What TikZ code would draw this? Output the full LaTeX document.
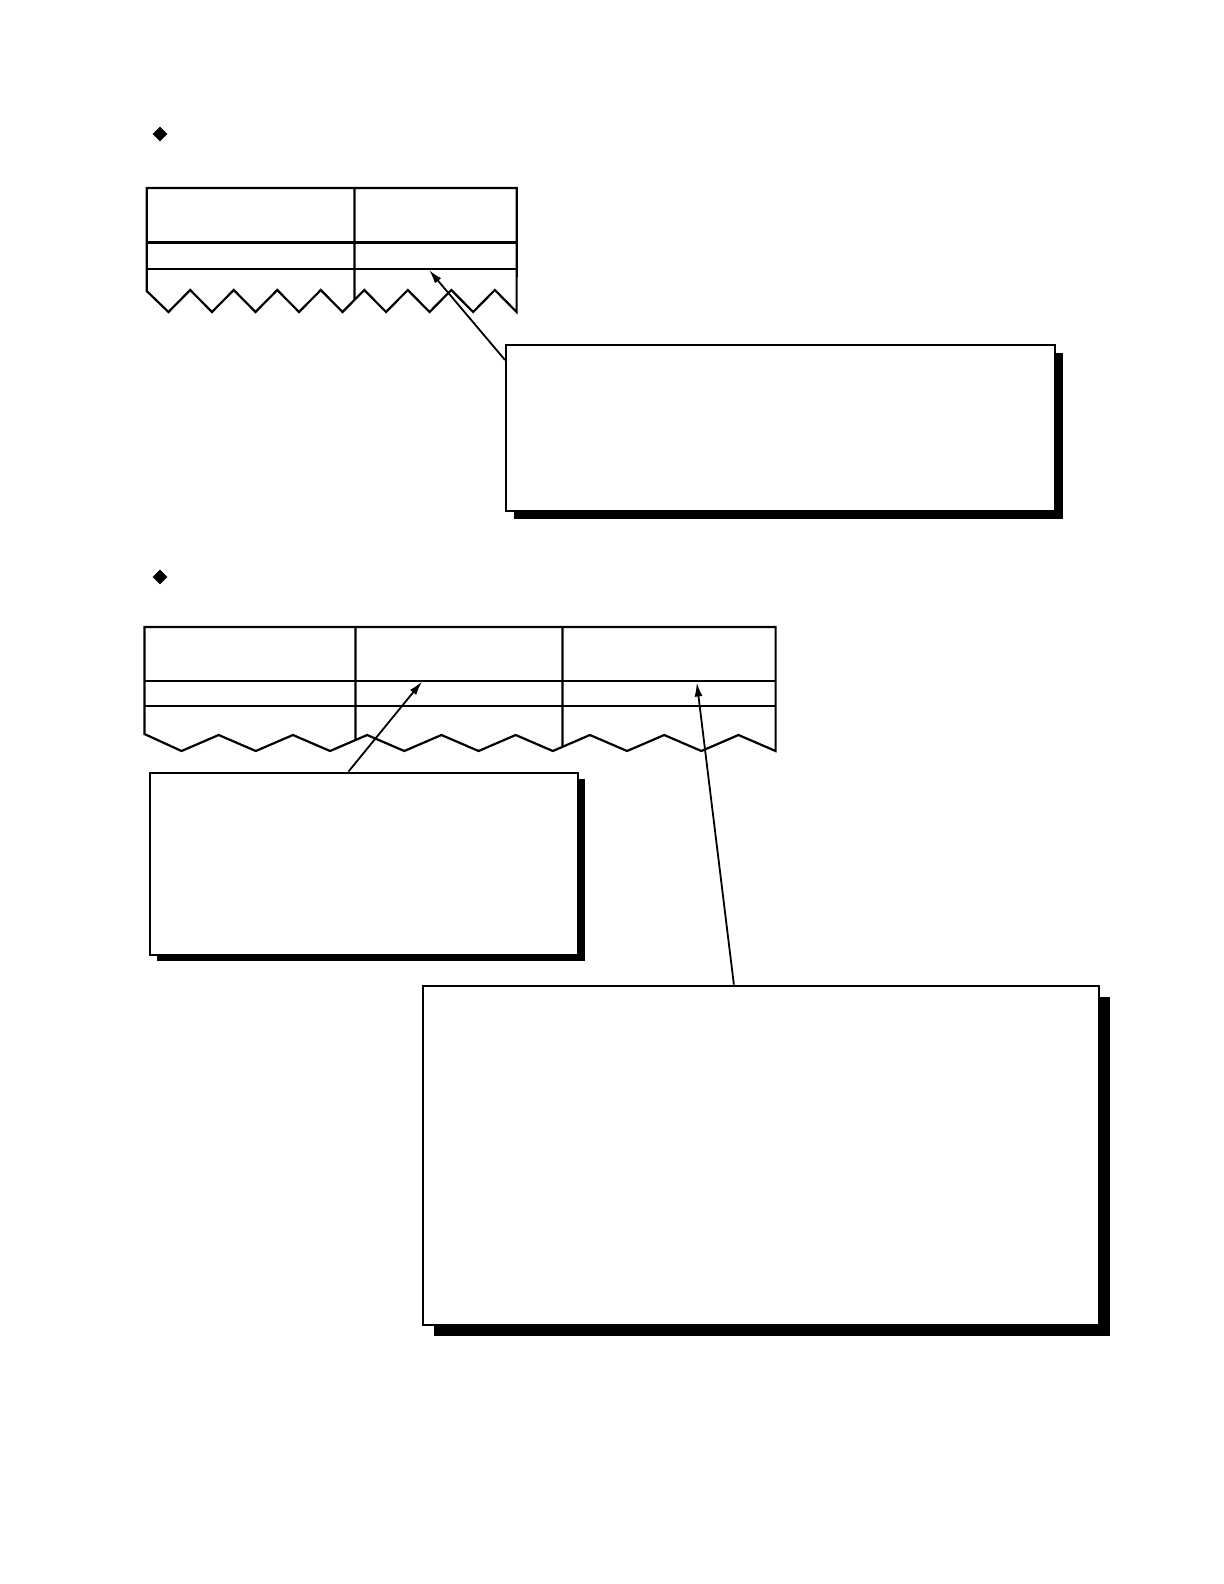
\documentclass[tikz,border=0pt]{standalone}
\usepackage{tikz}
\usetikzlibrary{calc,arrows.meta,shapes.geometric,shadows,intersections}

\begin{document}
\begin{tikzpicture}[x=0.5pt, y=-0.5pt]

                % Styles for the tables, the callout boxes and the arrows
                \tikzset{
                    tbl/.style={line width=1.1pt, line join=miter},
                    mark box/.style={diamond, fill=black, inner sep=0pt,
                        minimum width=7.5pt, minimum height=7.5pt},
                    callout/.style={draw, line width=1pt, fill=white,
                        rectangle, anchor=north west, inner sep=0pt},
                    pointer/.style={line width=0.9pt,
                        -{Latex[length=7pt, width=4pt]}}
                }

                % Page frame, letter size
                \useasboundingbox (0, 0) rectangle (1224, 1584);

                % Bullets in front of both parts
                \node[mark box] (mk1) at (160, 134) {};
                \node[mark box] (mk2) at (160, 577) {};

                % First table, two columns with a torn lower edge
                \begin{scope}[tbl]
                    \draw[name path=zigA] (146.7, 291)
                        \foreach \i [evaluate=\i as \zy using {ifthenelse(mod(\i,2)==1,312,290)}] in {1,...,17} {
                            -- ({146.7 + \i*21.76}, \zy)
                        } -- (516.7, 188) -- (146.7, 188) -- cycle;
                    \draw (146.7, 242.4) -- (516.7, 242.4);
                    \draw (146.7, 268.6) -- (516.7, 268.6);
                    \path[name path=divA] (354.5, 188) -- (354.5, 330);
                    \draw[name intersections={of=zigA and divA, by=xa}]
                        (354.5, 188) -- (xa);
                \end{scope}

                % Second table, three columns with a torn lower edge
                \begin{scope}[tbl]
                    \draw[name path=zigB] (144.4, 734)
                        \foreach \i [evaluate=\i as \zy using {ifthenelse(mod(\i,2)==1,751,735)}] in {1,...,17} {
                            -- ({144.4 + \i*37.13}, \zy)
                        } -- (775.6, 627) -- (144.4, 627) -- cycle;
                    \draw (144.4, 680.7) -- (775.6, 680.7);
                    \draw (144.4, 706) -- (775.6, 706);
                    \path[name path=divB] (355.5, 627) -- (355.5, 770);
                    \path[name path=divC] (562.5, 627) -- (562.5, 770);
                    \draw[name intersections={of=zigB and divB, by=xb}]
                        (355.5, 627) -- (xb);
                    \draw[name intersections={of=zigB and divC, by=xc}]
                        (562.5, 627) -- (xc);
                \end{scope}

                % Callout boxes with solid shadows
                \node[callout, minimum width=274.5pt, minimum height=83pt,
                    general shadow={fill=black, shadow xshift=4pt, shadow yshift=-4pt}]
                    (box1) at (505, 344) {};
                \node[callout, minimum width=214pt, minimum height=91pt,
                    general shadow={fill=black, shadow xshift=3.5pt, shadow yshift=-3pt}]
                    (box2) at (148.5, 771.6) {};
                \node[callout, minimum width=338pt, minimum height=169.5pt,
                    general shadow={fill=black, shadow xshift=5.5pt, shadow yshift=-5.5pt}]
                    (box3) at (422, 984.6) {};

                % Points on the tables that the callouts refer to
                \coordinate (t1) at (429, 270);
                \coordinate (t2) at (422, 681.5);
                \coordinate (t3) at (696.8, 682.5);

                \draw[pointer] ($(box1.north west) + (0, 16)$) -- (t1);
                \draw[pointer] ($(box2.north west)!0.465!(box2.north east)$) -- (t2);
                \draw[pointer] ($(box3.north west)!0.46!(box3.north east)$) -- (t3);

\end{tikzpicture}
\end{document}
